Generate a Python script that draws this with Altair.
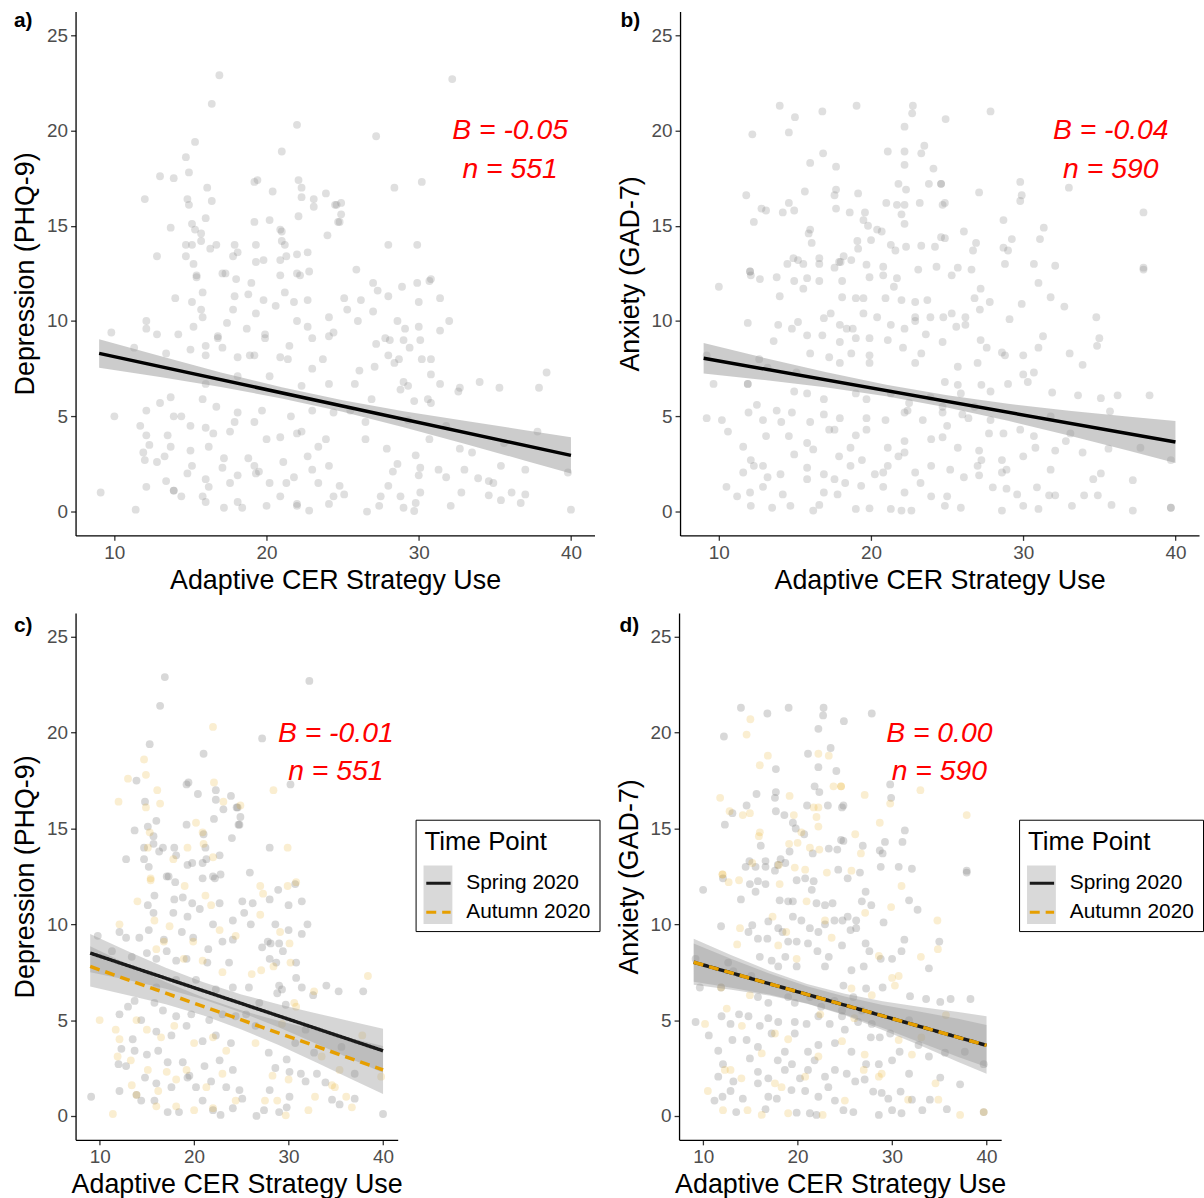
import altair as alt
import pandas as pd

# ---------------- data ----------------
# Depression (PHQ-9) vs Adaptive CER strategy use, Spring 2020 (grey points)
dep_spring = [
    [16.9, 22.9], [16.4, 21.4], [15.3, 19.4], [21.0, 18.9], [13.9, 17.5], [14.8, 16.4], [19.2, 17.3],
    [19.4, 17.4], [20.4, 16.8], [22.3, 17.0], [22.3, 16.5], [23.9, 16.7], [23.1, 16.0], [24.5, 16.1],
    [16.0, 15.4], [13.7, 14.9], [15.1, 15.1], [15.7, 14.6], [19.2, 15.2], [21.0, 14.7], [22.1, 15.5],
    [24.0, 14.5], [24.7, 15.2], [15.7, 14.2], [14.7, 14.0], [16.3, 13.8], [16.7, 14.0], [17.9, 14.0],
    [18.1, 13.6], [21.2, 14.0], [12.8, 13.4], [14.7, 13.4], [15.2, 13.0], [17.3, 12.5], [19.3, 13.1],
    [19.8, 13.2], [20.9, 13.2], [21.3, 13.4], [22.7, 13.6], [22.2, 12.4],
    [32.2, 22.7], [27.2, 19.7], [30.2, 17.3], [24.6, 16.1], [24.9, 15.6], [24.8, 15.2], [28.0, 14.0],
    [25.9, 12.7],
    [28.9, 11.8], [30.7, 12.1], [31.4, 11.2], [30.0, 11.0], [28.0, 11.3], [26.2, 11.1], [25.1, 11.2],
    [25.3, 10.6], [26.0, 10.0], [28.6, 10.0], [30.0, 9.7], [32.0, 10.0], [31.4, 9.5], [27.8, 9.1],
    [28.1, 9.0], [29.0, 9.0], [27.2, 8.8], [29.4, 8.6], [28.0, 8.2], [28.7, 8.0], [30.8, 8.0],
    [30.8, 7.2], [31.4, 6.7], [29.0, 6.8], [29.3, 6.6], [25.8, 6.7], [37.9, 6.5], [35.3, 6.5],
    [34.0, 6.8], [32.6, 6.3], [29.7, 5.8], [28.8, 6.4], [33.9, 1.75], [37.0, 0.9], [35.4, 0.6],
    [34.6, 0.85], [33.0, 2.2], [31.8, 1.8], [31.3, 2.2], [30.1, 2.3], [29.8, 2.95], [28.6, 2.5],
    [28.0, 1.35], [30.1, 1.0], [29.8, 0.45], [29.0, 0.2], [27.4, 0.3], [26.6, 0.0], [25.1, 0.9],
    [24.8, 1.35], [37.0, 2.2], [35.6, 3.6], [32.7, 3.3], [31.8, 4.5], [30.7, 3.8], [27.9, 3.3],
    [26.5, 4.7], [25.5, 5.3], [26.9, 5.9], [40.0, 0.1], [9.1, 1.0],
    [17.1, 12.5], [18.0, 12.2], [20.9, 12.4], [22.0, 12.5], [22.8, 12.6], [15.8, 11.5], [17.9, 11.3],
    [18.8, 11.4], [19.8, 11.1], [22.7, 11.1], [15.1, 11.0], [15.7, 10.6], [17.8, 10.6], [19.3, 10.4],
    [20.6, 10.8], [22.0, 10.0], [24.1, 10.2], [9.8, 9.4], [12.1, 9.6], [12.8, 9.3], [14.2, 9.3],
    [15.2, 9.7], [16.8, 9.2], [18.7, 9.6], [19.9, 9.3], [21.5, 8.7], [23.0, 9.1], [24.1, 9.2],
    [15.0, 8.5], [16.0, 8.2], [17.1, 8.6], [18.1, 8.1], [19.2, 8.2], [21.4, 8.0], [23.7, 8.0],
    [11.3, 8.6], [13.4, 8.3], [24.1, 6.7], [22.3, 6.6], [20.2, 7.1], [18.1, 7.1], [16.0, 6.7],
    [13.7, 6.0], [13.0, 5.7], [12.1, 5.3], [15.8, 5.9], [16.7, 5.5], [18.1, 5.2], [19.7, 5.3],
    [21.6, 5.0], [23.0, 5.3], [24.4, 5.2], [14.4, 5.0], [16.0, 4.4], [17.6, 4.2], [19.2, 4.7],
    [20.9, 3.9], [22.3, 4.2], [23.9, 3.8], [13.5, 4.0], [12.3, 3.5], [12.0, 2.7], [12.8, 2.6],
    [13.7, 3.4], [15.0, 3.2], [16.2, 3.4], [17.2, 2.8], [18.8, 2.8], [19.5, 2.1], [21.1, 2.6],
    [22.7, 2.9], [24.1, 2.4], [14.8, 2.0], [16.0, 1.7], [17.6, 1.5], [19.3, 2.0], [20.2, 1.5],
    [21.8, 1.8], [23.4, 1.5], [12.1, 1.3], [13.9, 1.1], [14.4, 0.8], [15.8, 0.8], [17.2, 0.2],
    [18.4, 0.2], [20.9, 0.8], [22.0, 0.3], [22.8, 0.05], [24.1, 0.4],
]

# Depression, Autumn 2020 (orange points)
dep_autumn = [
    [22.0, 20.3], [14.7, 18.6], [13.0, 17.6], [14.9, 17.8], [16.1, 17.0], [12.0, 16.4], [14.9, 16.1],
    [16.4, 16.3], [22.1, 17.4], [23.1, 16.4], [20.2, 15.3], [20.9, 14.8], [15.3, 14.8], [15.1, 14.0],
    [19.3, 14.0], [21.0, 14.2], [17.8, 13.4], [22.0, 13.5], [15.4, 12.4],
    [28.4, 17.0], [24.9, 16.2], [29.9, 14.0],
    [27.0, 12.0], [27.3, 11.6], [29.9, 12.0], [30.8, 12.2], [27.0, 10.5], [29.1, 9.6], [30.1, 9.0],
    [30.2, 8.0], [28.4, 7.8], [27.1, 7.6], [26.1, 7.4], [38.4, 7.3], [32.7, 6.5], [30.6, 5.9],
    [30.8, 5.7], [35.4, 2.4], [34.6, 1.6], [36.1, 1.0], [36.7, 0.45], [32.8, 1.0], [34.9, 1.5],
    [39.8, 2.05], [37.8, 4.2], [28.8, 0.8], [27.5, 0.8], [29.7, 0.03], [28.3, 2.1], [30.0, 1.9],
    [32.1, 0.3], [33.5, 3.1], [29.3, 4.8], [26.5, 3.8],
    [15.4, 12.3], [19.0, 12.0], [21.2, 11.5], [14.0, 11.2], [21.8, 11.0], [15.8, 10.2], [17.4, 9.9],
    [12.1, 10.0], [16.8, 9.1], [19.9, 9.1], [22.7, 9.7], [24.4, 9.4], [16.0, 8.7], [18.9, 8.2],
    [20.9, 8.1], [23.0, 7.5], [10.0, 5.0], [11.7, 4.5], [13.9, 5.0], [15.0, 4.5], [16.5, 4.1],
    [17.9, 4.7], [20.0, 3.8], [22.0, 4.1], [23.4, 3.4], [12.1, 4.0], [11.9, 3.1], [13.3, 2.9],
    [15.1, 2.4], [17.1, 2.3], [18.1, 1.9], [19.2, 2.4], [21.3, 1.5], [23.0, 2.2], [11.4, 0.1],
    [13.9, 1.1], [16.2, 1.3], [18.1, 0.5], [20.0, 0.3], [22.0, 0.4], [24.4, 0.8], [16.0, 0.5],
    [13.4, 1.6],
]

# Anxiety (GAD-7), Spring 2020 (grey points)
anx_spring = [
    [14.0, 21.3], [16.8, 21.0], [19.05, 21.3], [22.75, 21.3], [22.7, 20.9], [22.2, 20.2], [12.2, 19.8],
    [17.7, 18.1], [21.1, 18.9], [23.5, 19.2], [22.2, 18.2], [24.1, 18.0], [15.65, 16.8], [17.7, 16.9],
    [17.6, 16.6], [21.8, 17.2], [22.3, 16.9], [14.6, 16.2], [13.1, 15.8], [12.3, 15.2], [17.7, 15.9],
    [18.6, 15.7], [19.5, 15.3], [19.8, 15.0], [20.7, 14.7], [21.0, 16.2], [23.2, 16.2], [24.7, 16.1],
    [16.1, 14.1], [19.15, 13.8], [21.6, 13.7], [23.3, 13.95], [24.2, 13.9], [14.9, 13.3], [14.5, 13.0],
    [15.55, 13.0], [16.6, 13.3], [16.6, 13.0], [18.2, 13.4], [17.9, 13.1], [18.7, 13.2], [17.6, 12.8],
    [24.3, 12.85], [24.6, 14.4], [12.1, 12.4],
    [27.85, 21.0], [24.9, 20.6], [29.8, 17.3], [29.9, 16.6], [31.35, 14.9], [24.85, 14.35], [26.9, 14.1],
    [29.25, 14.3], [31.1, 14.3], [28.7, 13.85], [29.0, 13.7], [28.8, 13.0], [30.7, 13.0], [32.1, 12.9],
    [37.9, 12.8], [24.85, 16.2],
    [10.0, 11.8], [14.0, 11.3], [14.95, 12.1], [15.8, 12.25], [16.6, 12.1], [15.55, 11.7], [18.1, 11.25],
    [19.0, 11.2], [19.5, 11.2], [19.9, 12.3], [20.8, 12.4], [21.7, 12.25], [21.5, 11.8], [22.0, 11.1],
    [22.9, 11.0], [23.7, 11.1], [11.9, 9.9], [15.2, 9.95], [16.9, 10.15], [14.8, 9.6], [17.95, 9.8],
    [19.5, 10.4], [20.4, 10.2], [21.3, 9.8], [22.2, 9.6], [22.9, 10.0], [23.9, 10.2], [15.8, 9.25],
    [16.8, 9.25], [18.4, 9.6], [19.0, 9.1], [19.9, 9.1], [21.1, 9.0], [22.1, 8.6], [23.3, 8.3],
    [24.7, 8.9], [16.0, 8.3], [17.25, 8.1], [17.95, 7.8], [18.7, 8.3], [19.9, 7.8], [22.9, 7.8],
    [12.65, 8.0], [13.2, 7.55], [9.65, 6.7], [11.9, 6.7], [15.1, 7.3], [15.8, 6.2], [16.9, 5.9],
    [19.0, 6.2], [19.7, 5.9], [21.3, 6.2], [22.5, 5.7], [23.9, 6.0], [9.2, 4.9], [11.95, 5.2],
    [12.9, 4.8], [10.6, 4.2], [13.8, 5.3], [14.8, 5.2], [16.0, 4.7], [16.9, 5.1], [17.95, 4.9],
    [19.7, 4.9], [20.95, 4.8], [22.2, 5.2], [23.4, 4.8], [24.7, 5.2], [11.6, 3.4], [13.1, 3.96],
    [14.6, 3.96], [15.8, 3.6], [17.25, 4.3], [18.65, 3.35], [19.7, 4.3], [21.1, 3.35], [22.2, 3.7],
    [23.95, 3.8], [12.1, 2.7], [11.6, 2.05], [13.2, 1.8], [14.95, 3.0], [15.8, 2.3], [16.9, 1.96],
    [17.9, 2.9], [18.65, 2.4], [19.4, 2.7], [20.25, 1.96], [21.1, 2.4], [21.8, 2.9], [22.9, 2.05],
    [23.95, 2.4], [11.2, 0.8], [12.05, 1.0], [12.9, 1.3], [14.2, 0.9], [15.8, 1.7], [16.9, 1.0],
    [17.8, 0.9], [19.35, 1.35], [20.8, 1.3], [22.2, 1.0], [23.25, 1.5], [13.5, 0.2], [16.6, 0.35],
    [19.9, 0.17], [21.3, 0.14], [22.0, 0.05], [23.95, 0.8], [9.2, 8.2],
    [26.6, 12.7], [25.3, 12.4], [37.9, 12.7], [27.2, 11.7], [27.8, 11.0], [26.8, 11.2], [31.8, 11.25],
    [32.7, 10.76], [29.1, 10.1], [24.75, 10.2], [25.3, 10.4], [26.2, 10.2], [25.6, 9.7], [26.2, 9.8],
    [31.3, 9.2], [31.0, 8.6], [27.2, 9.0], [27.6, 8.6], [28.8, 8.2], [30.0, 8.2], [33.9, 7.7],
    [35.0, 9.1], [31.9, 6.25], [33.6, 6.1], [35.1, 5.95], [36.2, 6.1], [38.3, 6.1], [25.7, 7.6],
    [27.0, 7.8], [24.85, 6.8], [25.9, 6.2], [27.25, 6.65], [29.0, 6.7], [31.8, 5.0], [39.7, 2.7],
    [37.7, 3.35], [35.6, 3.3], [33.9, 3.1], [32.8, 3.7], [30.8, 3.35], [30.0, 2.9], [28.6, 2.7],
    [27.25, 2.7], [25.7, 3.35], [25.2, 2.2], [26.1, 1.8], [27.1, 1.9], [28.0, 1.27], [28.9, 1.2],
    [29.6, 0.9], [30.9, 1.27], [31.8, 2.2], [32.1, 0.85], [34.0, 0.85], [35.1, 2.0], [37.2, 1.65],
    [28.6, 0.05], [30.0, 0.3], [31.0, 0.14], [33.2, 0.3], [35.8, 0.35], [39.7, 0.2], [24.85, 0.3],
    [25.9, 0.2], [27.75, 4.1], [28.7, 4.1], [29.8, 4.3], [27.85, 4.8], [26.4, 4.9], [25.0, 4.5],
    [26.8, 5.5], [24.7, 5.5],
]

# Anxiety, Autumn 2020 (orange points)
anx_autumn = [
    [15.0, 20.7], [14.6, 19.9], [16.85, 18.8], [16.0, 18.3], [22.2, 18.9], [23.3, 18.8], [11.8, 16.6],
    [12.8, 15.9], [14.2, 15.7], [14.95, 15.8], [19.15, 16.7], [21.7, 16.1], [22.2, 16.1], [22.0, 15.6],
    [22.2, 15.1], [23.8, 17.2], [24.6, 17.2], [19.6, 15.7], [20.4, 14.8], [15.9, 14.6], [16.0, 14.8],
    [19.1, 14.2], [20.0, 14.25], [21.3, 14.0], [22.3, 13.9], [15.2, 13.2], [18.0, 13.1], [19.7, 12.96],
    [20.8, 12.85], [23.1, 12.7], [12.05, 12.6],
    [33.0, 17.0], [37.9, 15.7], [29.8, 16.3], [27.1, 16.75], [28.7, 15.3], [26.1, 14.7], [26.7, 13.7],
    [24.6, 17.2], [25.7, 12.8],
    [12.05, 12.6], [12.7, 12.2], [13.8, 12.3], [18.1, 12.1], [20.95, 11.2], [22.9, 10.2], [17.35, 10.4],
    [13.9, 9.8], [13.6, 8.95], [18.8, 9.6], [17.95, 8.9], [19.9, 8.2], [23.6, 9.3], [11.9, 6.7],
    [12.5, 5.6], [10.2, 4.8], [14.1, 4.7], [14.95, 6.3], [17.6, 4.3], [19.0, 4.0], [22.4, 5.3],
    [12.3, 2.4], [12.9, 2.4], [14.05, 1.96], [10.5, 1.3], [12.1, 0.3], [14.7, 0.3], [16.2, 0.05],
    [19.0, 0.14], [22.65, 0.05], [17.6, 1.7], [20.8, 2.05], [16.2, 3.26], [22.2, 3.1], [18.3, 1.5],
    [31.0, 12.0], [29.9, 10.9], [27.15, 10.6], [34.8, 10.2], [34.85, 8.7], [33.05, 8.3], [28.6, 8.35],
    [30.7, 7.3], [30.0, 7.2], [30.3, 6.8], [27.85, 6.3], [25.7, 6.65], [35.7, 5.26], [33.1, 4.1],
    [30.7, 3.96], [32.1, 3.2], [34.6, 1.7], [34.9, 0.85], [37.2, 0.05], [39.7, 0.2], [28.6, 2.05],
    [31.7, 0.85], [28.9, 2.2], [27.1, 3.2], [26.0, 5.1], [24.7, 3.9], [25.0, 0.8], [27.0, 2.4],
]

# confidence bands and fitted lines
band_x = [9, 13, 17, 21, 25, 29, 33, 37, 40]
band_a_lo = [7.55, 7.06, 6.54, 5.94, 5.24, 4.43, 3.56, 2.67, 2.00]
band_a_hi = [9.05, 8.16, 7.30, 6.52, 5.84, 5.27, 4.76, 4.27, 3.90]
band_b_lo = [7.25, 6.90, 6.52, 6.05, 5.46, 4.76, 3.99, 3.18, 2.55]
band_b_hi = [8.85, 8.06, 7.32, 6.65, 6.10, 5.66, 5.29, 4.98, 4.75]
band_c_spring_lo = [7.50, 7.09, 6.63, 6.08, 5.40, 4.61, 3.75, 2.89, 2.25]
band_c_spring_hi = [9.50, 8.59, 7.73, 6.98, 6.34, 5.81, 5.35, 4.89, 4.55]
band_c_autumn_lo = [6.75, 6.30, 5.83, 5.24, 4.51, 3.69, 2.77, 1.84, 1.15]
band_c_autumn_hi = [8.85, 7.90, 6.99, 6.18, 5.51, 4.95, 4.47, 4.00, 3.65]
band_d_spring_lo = [7.00, 6.69, 6.33, 5.87, 5.29, 4.59, 3.83, 3.07, 2.55]
band_d_spring_hi = [9.00, 8.19, 7.43, 6.77, 6.23, 5.79, 5.43, 5.07, 4.75]
band_d_autumn_lo = [6.85, 6.59, 6.28, 5.85, 5.25, 4.49, 3.68, 2.82, 2.20]
band_d_autumn_hi = [9.25, 8.39, 7.58, 6.89, 6.37, 5.99, 5.68, 5.42, 5.20]

line_x = [9, 40]
line_a = [8.30, 2.95]
line_b = [8.05, 3.65]
line_c_spring = [8.50, 3.40]
line_c_autumn = [7.80, 2.40]
line_d_spring = [8.02, 3.68]
line_d_autumn = [8.02, 3.68]

ann_a = ["B = -0.05", "n = 551"]
ann_b = ["B = -0.04", "n = 590"]
ann_c = ["B = -0.01", "n = 551"]
ann_d = ["B = 0.00", "n = 590"]
ann_y = [20, 18]

groups = ["Spring 2020", "Autumn 2020"]
x_ticks = [10, 20, 30, 40]
y_ticks = [0, 5, 10, 15, 20, 25]

# ---------------- helpers ----------------
FONT = "Liberation Sans"
XD = [7.45, 41.55]
YD = [-1.25, 26.25]
X_TITLE = "Adaptive CER Strategy Use"
GREY = "#7f7f7f"
ORANGE = "#E69F00"


def ex():
    return alt.X("x:Q", scale=alt.Scale(domain=XD, nice=False, zero=False),
                 axis=alt.Axis(values=x_ticks, title=X_TITLE))


def ey(field, title):
    return alt.Y(f"{field}:Q", scale=alt.Scale(domain=YD, nice=False, zero=False),
                 axis=alt.Axis(values=y_ticks, title=title))


def pts(lst):
    return pd.DataFrame(lst, columns=["x", "y"])


def band(lo, hi):
    return pd.DataFrame({"x": band_x, "lo": lo, "hi": hi})


def point_layer(lst, color, opacity, ytitle):
    return alt.Chart(pts(lst)).mark_circle(size=62, color=color, opacity=opacity).encode(
        x=ex(), y=ey("y", ytitle))


def band_layer(lo, hi, ytitle, op=0.4):
    return alt.Chart(band(lo, hi)).mark_area(color="#999999", opacity=op).encode(
        x=ex(), y=ey("lo", ytitle), y2="hi:Q")


def ann_layer(xpos, lines, ytitle):
    df = pd.DataFrame({"x": [xpos] * len(lines), "y": ann_y, "t": lines})
    return alt.Chart(df).mark_text(font=FONT, fontSize=28.5, fontStyle="italic", color="#FF0000",
                                   align="center", baseline="middle").encode(
        x=ex(), y=ey("y", ytitle), text="t:N")


def label_layer(txt, xoff, yoff):
    return alt.Chart(pd.DataFrame({"t": [txt]})).mark_text(
        font=FONT, fontSize=21, fontWeight="bold", align="left", baseline="top", color="black"
    ).encode(text="t:N", x=alt.value(xoff), y=alt.value(yoff))


def key_bg():
    # grey key background behind the legend symbols (as drawn by the ribbon key)
    return alt.Chart(pd.DataFrame({"k": [0]})).mark_rect(color="#d9d9d9").encode(
        x=alt.value(350), x2=alt.value(379), y=alt.value(254), y2=alt.value(313))


LEG = alt.Legend(title="Time Point", orient="none", legendX=342, legendY=208,
                 symbolType="stroke", symbolStrokeWidth=3, symbolSize=600,
                 strokeColor="black", padding=9)


def group_line(yvals, grp, ytitle):
    df = pd.DataFrame({"x": line_x, "y": yvals, "tp": [grp, grp]})
    return alt.Chart(df).mark_line(strokeWidth=3.5).encode(
        x=ex(), y=ey("y", ytitle),
        color=alt.Color("tp:N", scale=alt.Scale(domain=groups, range=["#1a1a1a", ORANGE]), legend=LEG),
        strokeDash=alt.StrokeDash("tp:N", scale=alt.Scale(domain=groups, range=[[1, 0], [10, 6]]), legend=LEG),
    )


def simple_line(yvals, ytitle):
    df = pd.DataFrame({"x": line_x, "y": yvals})
    return alt.Chart(df).mark_line(strokeWidth=3.5, color="black").encode(x=ex(), y=ey("y", ytitle))


# ---------------- panels ----------------
DEP = "Depression (PHQ-9)"
ANX = "Anxiety (GAD-7)"
TOP_W, TOP_H = 522, 527
BOT_W, BOT_H = 324, 530

pa = alt.layer(
    point_layer(dep_spring + dep_autumn, GREY, 0.25, DEP),
    band_layer(band_a_lo, band_a_hi, DEP, 0.5),
    simple_line(line_a, DEP),
    ann_layer(36.0, ann_a, DEP),
    label_layer("a)", -62, -1),
).properties(width=TOP_W, height=TOP_H)

pb = alt.layer(
    point_layer(anx_spring + anx_autumn, GREY, 0.25, ANX),
    band_layer(band_b_lo, band_b_hi, ANX, 0.5),
    simple_line(line_b, ANX),
    ann_layer(35.75, ann_b, ANX),
    label_layer("b)", -60, -1),
).properties(width=TOP_W, height=TOP_H)

pc = alt.layer(
    key_bg(),
    point_layer(dep_spring, GREY, 0.3, DEP),
    point_layer(dep_autumn, ORANGE, 0.18, DEP),
    band_layer(band_c_spring_lo, band_c_spring_hi, DEP),
    band_layer(band_c_autumn_lo, band_c_autumn_hi, DEP),
    group_line(line_c_spring, "Spring 2020", DEP),
    group_line(line_c_autumn, "Autumn 2020", DEP),
    ann_layer(35.0, ann_c, DEP),
    label_layer("c)", -62, 2),
).properties(width=BOT_W, height=BOT_H)

pd_ = alt.layer(
    key_bg(),
    point_layer(anx_spring, GREY, 0.3, ANX),
    point_layer(anx_autumn, ORANGE, 0.18, ANX),
    band_layer(band_d_spring_lo, band_d_spring_hi, ANX),
    band_layer(band_d_autumn_lo, band_d_autumn_hi, ANX),
    group_line(line_d_spring, "Spring 2020", ANX),
    group_line(line_d_autumn, "Autumn 2020", ANX),
    ann_layer(35.0, ann_d, ANX),
    label_layer("d)", -60, 2),
).properties(width=BOT_W, height=BOT_H)

top = alt.hconcat(pa, pb, spacing=21)
bottom = alt.hconcat(pc, pd_, spacing=14).resolve_scale(color="independent", strokeDash="independent")

chart = alt.vconcat(top, bottom, spacing=20).resolve_scale(
    color="independent", strokeDash="independent"
).properties(
    padding={"left": 11, "top": 7, "right": 0, "bottom": 0},
    background="white",
).configure_view(stroke=None).configure_axis(
    grid=False,
    domainColor="black", domainWidth=1.3,
    tickColor="#333333", tickSize=5, tickWidth=1.3,
    labelFont=FONT, labelFontSize=19, labelColor="#4D4D4D", labelPadding=3,
    titleFont=FONT, titleFontSize=27, titleFontWeight="normal", titleColor="black",
).configure_axisX(titlePadding=5).configure_axisY(titlePadding=7).configure_legend(
    titleFont=FONT, titleFontSize=26, titleFontWeight="normal", titleColor="black",
    labelFont=FONT, labelFontSize=21, labelColor="black",
    titlePadding=15, rowPadding=5, labelOffset=14,
)

chart.save("out.html", embed_options={"renderer": "svg", "actions": False})
